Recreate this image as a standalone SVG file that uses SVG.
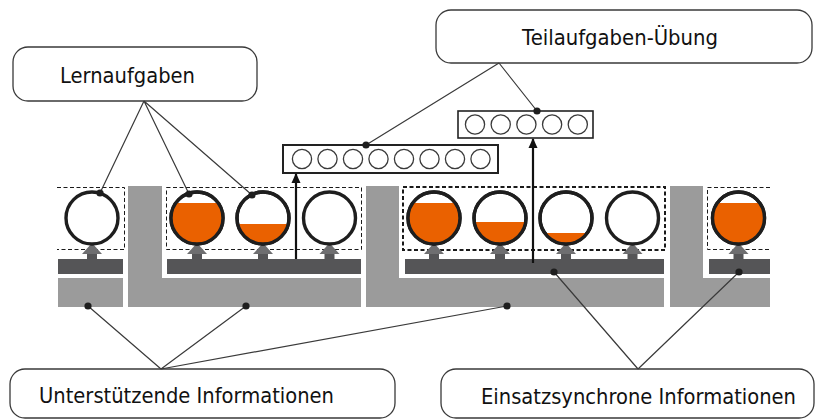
<svg xmlns="http://www.w3.org/2000/svg" width="816" height="419" viewBox="0 0 816 419">
  <style>
    .label-box { fill: #ffffff; stroke: #3a3a3a; stroke-width: 1.3; }
    .label { font-family: "DejaVu Sans", "Liberation Sans", sans-serif; font-size: 22px; fill: #111111; }
    .support { fill: #9b9b9b; }
    .procedural { fill: #555557; }
    .frame-thin { fill: none; stroke: #1a1a1a; stroke-width: 1; stroke-dasharray: 4 2.5; }
    .frame-bold { fill: none; stroke: #1a1a1a; stroke-width: 2; stroke-dasharray: 4 2.5; }
    .task { fill: #ffffff; stroke: #1e1e1e; stroke-width: 3.4; }
    .fill { fill: #ea6100; }
    .lift-stem { fill: #555557; }
    .lift-head { fill: #6e6e70; }
    .part-box { fill: #ffffff; stroke: #222222; stroke-width: 2; }
    .part { fill: #ffffff; stroke: #3a3a3a; stroke-width: 1.3; }
    .link { fill: none; stroke: #3a3a3a; stroke-width: 1.2; }
    .dot { fill: #1e1e1e; }
    .push { stroke: #111111; stroke-width: 2.2; fill: none; }
  </style>
  <defs>
    <clipPath id="clip-inner"><circle cx="0" cy="0" r="25"/></clipPath>
    <marker id="arrowhead" viewBox="0 0 10 10" refX="9" refY="5" markerWidth="10" markerHeight="10" markerUnits="userSpaceOnUse" orient="auto">
      <path d="M0,0.5 L10,5 L0,9.5 Z" fill="#111111"/>
    </marker>
    <!-- small upward arrow carrying procedural info into a task -->
    <g id="lift">
      <rect class="lift-stem" x="-5" y="249" width="10" height="11"/>
      <polygon class="lift-head" points="-10,254 0,243 10,254"/>
    </g>
  </defs>

  <!-- supportive information (light grey L-shapes) -->
  <g id="support-bars">
    <rect class="support" x="58" y="278" width="65" height="29"/>
    <path class="support" d="M128,186 H162 V278 H361 V307 H128 Z"/>
    <path class="support" d="M366,186 H399 V278 H664 V307 H366 Z"/>
    <path class="support" d="M670,186 H703 V278 H770 V307 H670 Z"/>
  </g>

  <!-- procedural information (dark grey bars) -->
  <g id="procedural-bars">
    <rect class="procedural" x="58" y="259" width="65" height="15"/>
    <rect class="procedural" x="167" y="259" width="194" height="15"/>
    <rect class="procedural" x="405" y="259" width="259" height="15"/>
    <rect class="procedural" x="709" y="259" width="61" height="15"/>
  </g>

  <!-- task classes -->
  <g id="task-class-1">
    <path class="frame-thin" d="M57,187.5 H124.5 V249.5 H57"/>
  </g>
  <g id="task-class-2">
    <rect class="frame-thin" x="166.5" y="187.5" width="195" height="62"/>
  </g>
  <g id="task-class-3">
    <rect class="frame-bold" x="403" y="187" width="262" height="63"/>
  </g>
  <g id="task-class-4">
    <path class="frame-thin" d="M770,187.5 H707.5 V249.5 H770"/>
  </g>

  <!-- arrows under each task -->
  <g id="lifts">
    <use href="#lift" x="92"/>
    <use href="#lift" x="197"/>
    <use href="#lift" x="263"/>
    <use href="#lift" x="329.5"/>
    <use href="#lift" x="434"/>
    <use href="#lift" x="500"/>
    <use href="#lift" x="566"/>
    <use href="#lift" x="632.5"/>
    <use href="#lift" x="738.5"/>
  </g>

  <!-- learning tasks; orange level shows learner support -->
  <g id="task-1" transform="translate(92,218)">
    <circle class="task" r="26"/>
  </g>
  <g id="task-2" transform="translate(197,218)">
    <circle class="task" r="26"/>
    <rect class="fill" x="-26" y="-15" width="52" height="45" clip-path="url(#clip-inner)"/>
    <circle r="26" fill="none" stroke="#1e1e1e" stroke-width="3.4"/>
  </g>
  <g id="task-3" transform="translate(263,218)">
    <circle class="task" r="26"/>
    <rect class="fill" x="-26" y="6" width="52" height="24" clip-path="url(#clip-inner)"/>
    <circle r="26" fill="none" stroke="#1e1e1e" stroke-width="3.4"/>
  </g>
  <g id="task-4" transform="translate(329.5,218)">
    <circle class="task" r="26"/>
  </g>
  <g id="task-5" transform="translate(434,218)">
    <circle class="task" r="26"/>
    <rect class="fill" x="-26" y="-15" width="52" height="45" clip-path="url(#clip-inner)"/>
    <circle r="26" fill="none" stroke="#1e1e1e" stroke-width="3.4"/>
  </g>
  <g id="task-6" transform="translate(500,218)">
    <circle class="task" r="26"/>
    <rect class="fill" x="-26" y="4" width="52" height="26" clip-path="url(#clip-inner)"/>
    <circle r="26" fill="none" stroke="#1e1e1e" stroke-width="3.4"/>
  </g>
  <g id="task-7" transform="translate(566,218)">
    <circle class="task" r="26"/>
    <rect class="fill" x="-26" y="15" width="52" height="15" clip-path="url(#clip-inner)"/>
    <circle r="26" fill="none" stroke="#1e1e1e" stroke-width="3.4"/>
  </g>
  <g id="task-8" transform="translate(632.5,218)">
    <circle class="task" r="26"/>
  </g>
  <g id="task-9" transform="translate(738.5,218)">
    <circle class="task" r="26"/>
    <rect class="fill" x="-26" y="-15" width="52" height="45" clip-path="url(#clip-inner)"/>
    <circle r="26" fill="none" stroke="#1e1e1e" stroke-width="3.4"/>
  </g>

  <!-- part-task practice rows -->
  <g id="practice-1">
    <rect class="part-box" x="283" y="145" width="215" height="28"/>
    <circle class="part" cx="302" cy="159" r="9.6"/>
    <circle class="part" cx="327.5" cy="159" r="9.6"/>
    <circle class="part" cx="353" cy="159" r="9.6"/>
    <circle class="part" cx="378.5" cy="159" r="9.6"/>
    <circle class="part" cx="404" cy="159" r="9.6"/>
    <circle class="part" cx="429.5" cy="159" r="9.6"/>
    <circle class="part" cx="455" cy="159" r="9.6"/>
    <circle class="part" cx="480.5" cy="159" r="9.6"/>
  </g>
  <g id="practice-2">
    <rect class="part-box" x="458" y="111" width="135" height="27" style="stroke-width:1.6"/>
    <circle class="part" cx="475" cy="124.5" r="9.6"/>
    <circle class="part" cx="500.7" cy="124.5" r="9.6"/>
    <circle class="part" cx="526.4" cy="124.5" r="9.6"/>
    <circle class="part" cx="552.1" cy="124.5" r="9.6"/>
    <circle class="part" cx="577.8" cy="124.5" r="9.6"/>
  </g>

  <!-- label boxes -->
  <g id="label-lernaufgaben">
    <rect class="label-box" x="13" y="47" width="244" height="54" rx="15"/>
    <text class="label" x="60" y="83" textLength="135" lengthAdjust="spacingAndGlyphs">Lernaufgaben</text>
  </g>
  <g id="label-teilaufgaben">
    <rect class="label-box" x="436" y="10" width="376" height="53" rx="15"/>
    <text class="label" x="522" y="45" textLength="196" lengthAdjust="spacingAndGlyphs">Teilaufgaben-Übung</text>
  </g>
  <g id="label-unterstuetzend">
    <rect class="label-box" x="10" y="369" width="385" height="49" rx="15"/>
    <text class="label" x="39" y="403" textLength="295" lengthAdjust="spacingAndGlyphs">Unterstützende Informationen</text>
  </g>
  <g id="label-einsatzsynchron">
    <rect class="label-box" x="441" y="369" width="373" height="49" rx="15"/>
    <text class="label" x="481" y="404" textLength="315" lengthAdjust="spacingAndGlyphs">Einsatzsynchrone Informationen</text>
  </g>

  <!-- connectors -->
  <g id="connectors">
    <path class="link" d="M144,101 L100,193 M144,101 L189,194 M144,101 L252,195"/>
    <path class="link" d="M499,63 L366,145 M499,63 L537,111"/>
    <path class="link" d="M161,369 L88,306 M161,369 L246,306 M161,369 L507,306"/>
    <path class="link" d="M638,369 L554,272 M638,369 L739,272"/>
    <line class="push" x1="296" y1="259" x2="296" y2="174" marker-end="url(#arrowhead)"/>
    <line class="push" x1="533" y1="263" x2="533" y2="139" marker-end="url(#arrowhead)"/>
    <circle class="dot" cx="100" cy="193" r="3.6"/>
    <circle class="dot" cx="189" cy="194" r="3.6"/>
    <circle class="dot" cx="252" cy="195" r="3.6"/>
    <circle class="dot" cx="366" cy="145" r="3.6"/>
    <circle class="dot" cx="537" cy="111" r="3.6"/>
    <circle class="dot" cx="88" cy="306" r="3.6"/>
    <circle class="dot" cx="246" cy="306" r="3.6"/>
    <circle class="dot" cx="507" cy="306" r="3.6"/>
    <circle class="dot" cx="554" cy="272" r="3.6"/>
    <circle class="dot" cx="739" cy="272" r="3.6"/>
  </g>
</svg>
